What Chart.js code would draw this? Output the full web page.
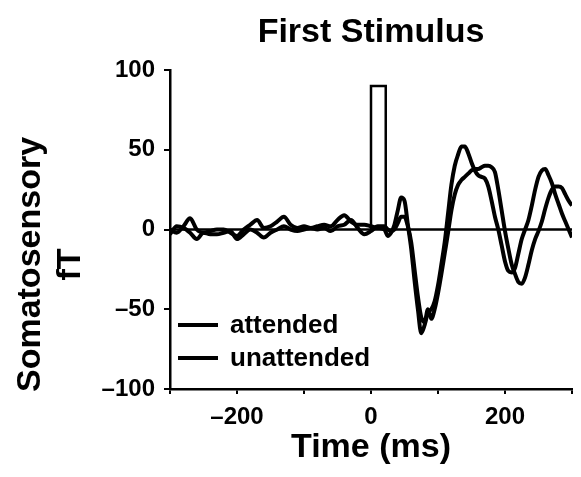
<!DOCTYPE html>
<html>
<head>
<meta charset="utf-8">
<script src="https://cdn.jsdelivr.net/npm/chart.js@4/dist/chart.umd.min.js"></script>
<style>
  html, body { margin: 0; padding: 0; background: #fff; }
  #wrap { width: 581px; height: 477px; }
</style>
</head>
<body>
<div id="wrap"><canvas id="c" width="581" height="477"></canvas></div>
<script>
// ---- data ----
const timeMs = [
  -300,-290,-280,-270,-260,-250,-240,-230,-220,-210,-200,-190,-180,-170,-160,-150,-140,-130,-120,-110,
  -100,-90,-80,-70,-60,-50,-40,-30,-20,-10,0,10,20,
  25,30,35,40,45,50,55,60,65,70,75,80,85,90,95,100,105,110,115,120,125,130,135,140,145,150,155,160,
  165,170,175,180,185,190,195,200,205,210,215,220,225,230,235,240,245,250,255,260,265,270,275,280,
  285,290,295,300
];
const attended = [
  0,-2,2,7,0,-2,-1,0,0,-2,-4,0,3,6,1,2,5,8,3,1,
  2,1,2,3,2,6,9,5,3,3,2,1,0,
  -4,-2,3,12,20,18,3,-12,-32,-50,-65,-60,-52,-50,-45,-35,-22,-8,10,28,40,47,52,52,48,42,37,34,
  33,32,27,18,8,0,-10,-20,-26,-27,-24,-15,-6,0,6,15,25,33,37,38,34,29,22,16,
  10,5,0,-5
];
const unattended = [
  -3,2,1,-2,-6,-2,-3,-3,-2,-1,-6,-3,0,-2,-5,-2,0,2,0,-1,
  0,1,0,1,-1,2,3,6,1,-3,-1,2,2,
  0,-1,0,4,8,8,2,-8,-25,-42,-55,-58,-50,-56,-50,-40,-28,-15,-2,12,22,28,31,33,35,37,38,38,
  39,40,40,39,36,25,12,-1,-12,-22,-28,-33,-34,-30,-22,-13,-6,-1,5,13,20,25,27,27,
  26,22,18,15
];
const stimulusTime = [0, 0, 22, 22];
const stimulusValue = [0, 90, 90, 0];
const zeroLineTime = [-300, 300];
const zeroLineValue = [0, 0];
const seriesLabels = ['attended', 'unattended'];
const xLabelledTicks = [-200, 0, 200];
const titleText = 'First Stimulus';
const xTitle = 'Time (ms)';
const yTitle = ['Somatosensory', 'fT'];

// ---- helpers ----
const FONT = '"Liberation Sans", Arial, Helvetica, sans-serif';
const pts = (xs, ys) => xs.map((x, i) => ({ x: x, y: ys[i] }));
const fmt = v => (v < 0 ? '\u2013' + Math.abs(v) : String(v));

const legendPlugin = {
  id: 'insideLegend',
  afterDatasetsDraw(chart) {
    const ctx = chart.ctx;
    const a = chart.chartArea;
    const items = chart.data.datasets.filter(d => d.inLegend);
    ctx.save();
    ctx.font = 'bold 26px ' + FONT;
    ctx.textBaseline = 'middle';
    ctx.textAlign = 'left';
    items.forEach((d, i) => {
      const y = a.bottom - 64 + i * 33;
      ctx.strokeStyle = d.borderColor;
      ctx.lineWidth = 4;
      ctx.beginPath();
      ctx.moveTo(a.left + 8, y);
      ctx.lineTo(a.left + 48, y);
      ctx.stroke();
      ctx.fillStyle = '#000';
      ctx.fillText(d.label, a.left + 60, y + 1);
    });
    ctx.restore();
  }
};

// y-axis title, two rotated lines, placed a little below the axis centre as in the reference
const yTitlePlugin = {
  id: 'yTitle',
  afterDraw(chart) {
    const ctx = chart.ctx;
    const a = chart.chartArea;
    const yc = (a.top + a.bottom) / 2 + 35;
    const xs = [31, 71];
    ctx.save();
    ctx.font = 'bold 34px ' + FONT;
    ctx.fillStyle = '#000';
    ctx.textAlign = 'center';
    ctx.textBaseline = 'middle';
    yTitle.forEach((t, i) => {
      ctx.save();
      ctx.translate(xs[i], yc);
      ctx.rotate(-Math.PI / 2);
      ctx.fillText(t, 0, 0);
      ctx.restore();
    });
    ctx.restore();
  }
};

new Chart(document.getElementById('c'), {
  type: 'line',
  data: {
    datasets: [
      { label: seriesLabels[0], inLegend: true, data: pts(timeMs, attended),
        borderColor: '#000', borderWidth: 4, pointRadius: 0, cubicInterpolationMode: 'monotone', fill: false },
      { label: seriesLabels[1], inLegend: true, data: pts(timeMs, unattended),
        borderColor: '#000', borderWidth: 4, pointRadius: 0, cubicInterpolationMode: 'monotone', fill: false },
      { label: 'stimulus', data: pts(stimulusTime, stimulusValue),
        borderColor: '#000', borderWidth: 2.5, pointRadius: 0, tension: 0, fill: false },
      { label: 'zero', data: pts(zeroLineTime, zeroLineValue),
        borderColor: '#000', borderWidth: 2.5, pointRadius: 0, tension: 0, fill: false }
    ]
  },
  options: {
    responsive: false,
    animation: false,
    layout: { padding: { left: 0, right: 3, top: 0, bottom: 0 } },
    plugins: {
      legend: { display: false },
      tooltip: { enabled: false },
      title: {
        display: true, text: titleText, color: '#000', fullSize: false,
        font: { family: FONT, size: 34, weight: 'bold' },
        padding: { top: 12, bottom: 17.2 }
      }
    },
    scales: {
      x: {
        type: 'linear', min: -300, max: 300,
        afterFit: s => { s.height = 88; },
        ticks: {
          stepSize: 100, autoSkip: false, maxRotation: 0, color: '#000', padding: 9,
          font: { family: FONT, size: 24, weight: 'bold' },
          callback: v => (xLabelledTicks.includes(v) ? fmt(v) : '')
        },
        grid: { drawOnChartArea: false, drawTicks: true, tickLength: 5, color: '#000', lineWidth: 2 },
        border: { display: true, color: '#000', width: 2.5 },
        title: {
          display: true, text: xTitle, color: '#000',
          font: { family: FONT, size: 34, weight: 'bold' },
          padding: { top: 0, bottom: 9 }
        }
      },
      y: {
        min: -100, max: 100,
        afterFit: s => { s.width = 170; },
        ticks: {
          stepSize: 50, color: '#000', padding: 9,
          font: { family: FONT, size: 24, weight: 'bold' },
          callback: v => fmt(v)
        },
        grid: { drawOnChartArea: false, drawTicks: true, tickLength: 6, color: '#000', lineWidth: 2 },
        border: { display: true, color: '#000', width: 2.5 },
        title: { display: false }
      }
    }
  },
  plugins: [legendPlugin, yTitlePlugin]
});
</script>
</body>
</html>
